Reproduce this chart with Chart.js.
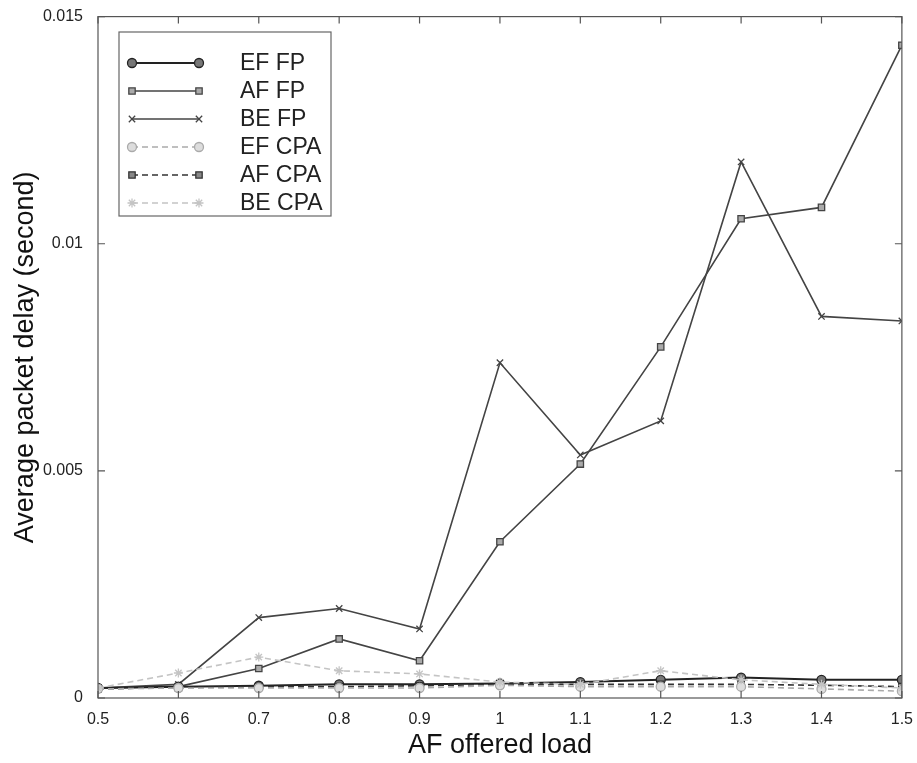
<!DOCTYPE html>
<html><head><meta charset="utf-8">
<script src="https://cdn.jsdelivr.net/npm/chart.js@4/dist/chart.umd.min.js"></script>
<style>html,body{margin:0;padding:0;background:#fff}#wrap{width:917px;height:763px}</style>
</head><body><div id="wrap"><canvas id="c" width="917" height="763"></canvas></div>
<script>
const loads = [0.5,0.6,0.7,0.8,0.9,1.0,1.1,1.2,1.3,1.4,1.5];
const seriesNames = ['EF FP','AF FP','BE FP','EF CPA','AF CPA','BE CPA'];
const efFP  = [0.00022,0.00025,0.00027,0.0003,0.0003,0.00032,0.00035,0.0004,0.00045,0.0004,0.0004];
const afFP  = [0.00022,0.00025,0.00065,0.0013,0.00082,0.00344,0.00515,0.00773,0.01055,0.0108,0.01437];
const beFP  = [0.00022,0.0003,0.00177,0.00197,0.00152,0.00738,0.00535,0.0061,0.0118,0.0084,0.0083];
const efCPA = [0.0002,0.00022,0.00022,0.00022,0.00022,0.00028,0.00025,0.00025,0.00025,0.0002,0.00015];
const afCPA = [0.0002,0.00023,0.00025,0.00025,0.00027,0.0003,0.0003,0.0003,0.0003,0.00028,0.00025];
const beCPA = [0.00022,0.00055,0.0009,0.0006,0.00053,0.00035,0.0003,0.0006,0.0004,0.0003,0.00022];
const yTicks = [0,0.005,0.01,0.015];
const xTitle = 'AF offered load';
const yTitle = 'Average packet delay (second)';

const FONT = '"Liberation Sans", Arial, sans-serif';
const styles = [
  {c:'#222', dash:[], ps:'circle', bg:'#777', w:2},
  {c:'#444', dash:[], ps:'rect', bg:'#aaa', w:1.6},
  {c:'#444', dash:[], ps:'crossRot', bg:'#444', w:1.6},
  {c:'#aaa', dash:[6,4], ps:'circle', bg:'#ddd', w:1.6},
  {c:'#333', dash:[6,4], ps:'rect', bg:'#888', w:1.6},
  {c:'#c4c4c4', dash:[6,4], ps:'star', bg:'#c4c4c4', w:1.6}
];
const allData = [efFP, afFP, beFP, efCPA, afCPA, beCPA];
const drawOrder = [5,3,4,0,2,1];
const datasets = drawOrder.map(i => ({
  label: seriesNames[i],
  data: loads.map((x,k)=>({x:x, y:allData[i][k]})),
  borderColor: styles[i].c, borderWidth: styles[i].w, borderDash: styles[i].dash,
  pointStyle: styles[i].ps, pointRadius: 4.5, pointBorderColor: styles[i].c,
  pointBackgroundColor: styles[i].bg, pointBorderWidth: 1.3, fill:false, tension:0
}));

const frame = {
  id:'frame',
  afterDraw(chart){
    const {ctx, chartArea:a, scales} = chart;
    ctx.save();
    ctx.strokeStyle = '#555'; ctx.lineWidth = 1.2; ctx.setLineDash([]);
    ctx.strokeRect(a.left, a.top, a.right-a.left, a.bottom-a.top);
    ctx.beginPath();
    loads.forEach(v => {const px = scales.x.getPixelForValue(v);
      ctx.moveTo(px,a.bottom); ctx.lineTo(px,a.bottom-7);
      ctx.moveTo(px,a.top); ctx.lineTo(px,a.top+7);});
    yTicks.forEach(v => {const py = scales.y.getPixelForValue(v);
      ctx.moveTo(a.left,py); ctx.lineTo(a.left+7,py);
      ctx.moveTo(a.right,py); ctx.lineTo(a.right-7,py);});
    ctx.stroke();
    // legend
    const lx=119, ly=32, lw=212, lh=184;
    ctx.fillStyle='#fff'; ctx.fillRect(lx,ly,lw,lh);
    ctx.strokeStyle='#666'; ctx.lineWidth=1.2; ctx.strokeRect(lx,ly,lw,lh);
    seriesNames.forEach((n,i)=>{
      const y = 63 + i*28, s = styles[i];
      ctx.strokeStyle = s.c; ctx.lineWidth = s.w; ctx.setLineDash(s.dash);
      ctx.beginPath(); ctx.moveTo(132,y); ctx.lineTo(199,y); ctx.stroke();
      ctx.setLineDash([]);
      [132,199].forEach(px=>{
        ctx.fillStyle = s.bg; ctx.strokeStyle = s.c; ctx.lineWidth = 1.3;
        Chart.helpers.drawPoint(ctx, {pointStyle:s.ps, radius:4.5, borderWidth:1.3, rotation:0}, px, y);
      });
      ctx.fillStyle='#222'; ctx.font='23px ' + FONT;
      ctx.textAlign='left'; ctx.textBaseline='middle';
      ctx.fillText(n, 240, y+1);
    });
    ctx.restore();
  }
};

new Chart(document.getElementById('c'), {
  type:'line',
  data:{datasets},
  options:{
    responsive:false, animation:false,
    layout:{padding:{top:15,right:13,left:0,bottom:0}},
    plugins:{legend:{display:false}, tooltip:{enabled:false}},
    scales:{
      x:{type:'linear', min:0.5, max:1.5,
        afterFit(s){s.height=65;},
        afterBuildTicks(s){s.ticks = loads.map(v=>({value:v}));},
        ticks:{color:'#222', font:{family:FONT, size:16}, padding:4,
          maxRotation:0, autoSkip:false, callback:v=>String(+v.toFixed(1))},
        grid:{display:false}, border:{display:false},
        title:{display:true, text:xTitle, color:'#111', font:{family:FONT, size:27}, padding:{top:1,bottom:1}}
      },
      y:{type:'linear', min:0, max:0.015,
        afterFit(s){s.width=98;},
        afterBuildTicks(s){s.ticks = yTicks.map(v=>({value:v}));},
        ticks:{color:'#222', font:{family:FONT, size:16}, padding:7,
          callback:v=>String(+v.toFixed(3))},
        grid:{display:false}, border:{display:false},
        title:{display:true, text:yTitle, color:'#111', font:{family:FONT, size:27}, padding:{top:9,bottom:9}}
      }
    }
  },
  plugins:[frame]
});
</script></body></html>
